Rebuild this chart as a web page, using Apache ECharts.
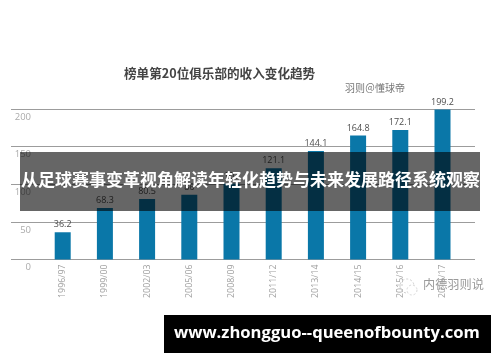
<!DOCTYPE html>
<html><head><meta charset="utf-8">
<style>html,body{margin:0;padding:0;background:#fff}#c{width:500px;height:362px}</style>
<script src="https://cdn.jsdelivr.net/npm/echarts@6/dist/echarts.min.js"></script></head>
<body><div id="c"></div>
<script>
const categories=['1996/97','1999/00','2002/03','2005/06','2008/09','2011/12','2013/14','2014/15','2015/16','2016/17'];
const revenue=[36.2,68.3,80.5,86,101,121.1,144.1,164.8,172.1,199.2];
const yTicks=[0,50,100,150,200];
const titleText='榜单第20位俱乐部的收入变化趋势';
const creditText='羽则＠懂球帝';
const bannerText='从足球赛事变革视角解读年轻化趋势与未来发展路径系统观察';
const urlText='www.zhongguo--queenofbounty.com';
const watermarkText='内德羽则说';
const cjk='"Noto Sans CJK SC","Noto Sans",sans-serif';
const latin='"Open Sans",sans-serif';
const chart=echarts.init(document.getElementById('c'),null,{renderer:'canvas'});
chart.setOption({
 animation:false,
 backgroundColor:'#fff',
 grid:[
  {left:11,width:464,top:109,height:150.5},
  {left:41.6,width:422,top:109,height:150.5}
 ],
 xAxis:[
  {gridIndex:0,type:'category',data:categories,show:false},
  {gridIndex:1,type:'category',data:categories,axisLine:{show:false},axisTick:{show:false},
   axisLabel:{rotate:90,color:'#a0a0a0',fontSize:8.8,fontFamily:latin,margin:5,interval:0}}
 ],
 yAxis:[
  {gridIndex:0,type:'value',min:yTicks[0],max:yTicks[4],interval:50,axisLine:{show:false},axisTick:{show:false},
   splitLine:{lineStyle:{color:'#9c9c9c',width:1}},
   axisLabel:{color:'#ababab',fontSize:9.5,fontFamily:latin,margin:-20,align:'right',verticalAlign:'top',padding:[3,0,0,0]}},
  {gridIndex:1,type:'value',min:yTicks[0],max:yTicks[4],interval:50,show:false}
 ],
 series:[{type:'bar',xAxisIndex:1,yAxisIndex:1,data:revenue,barWidth:16,
  itemStyle:{color:'#0a77a8'},
  label:{show:true,position:'top',distance:3,color:'#4d4d4d',fontSize:9,fontFamily:latin}}],
 graphic:[
  {type:'text',left:124,top:67,z:5,style:{text:titleText,fill:'#444',font:'bold 12.6px '+cjk}},
  {type:'text',left:345,top:83,z:5,style:{text:creditText,fill:'#777',font:'10px '+cjk}},
  {type:'text',left:423,top:278,z:5,style:{text:watermarkText,fill:'#9a9a9a',font:'12.2px '+cjk}},
  {type:'circle',z:5,shape:{cx:407,cy:286,r:7},style:{fill:'none',stroke:'#cfcfcf',lineWidth:1,lineDash:[2,2]}},
  {type:'circle',z:5,shape:{cx:412,cy:290,r:5},style:{fill:'#fff',stroke:'#d8d8d8',lineWidth:1,lineDash:[2,2]}},
  {type:'rect',z:10,shape:{x:20,y:152,width:460,height:59},style:{fill:'rgba(0,0,0,0.6)'}},
  {type:'text',z:11,left:21,top:171,style:{text:bannerText,fill:'#fff',font:'bold 17px '+cjk}},
  {type:'rect',z:10,shape:{x:164,y:315,width:327,height:38},style:{fill:'#000'}},
  {type:'text',z:11,left:174,top:325,style:{text:urlText,fill:'#fff',font:'bold 16.6px '+latin}}
 ]
});
</script></body></html>
